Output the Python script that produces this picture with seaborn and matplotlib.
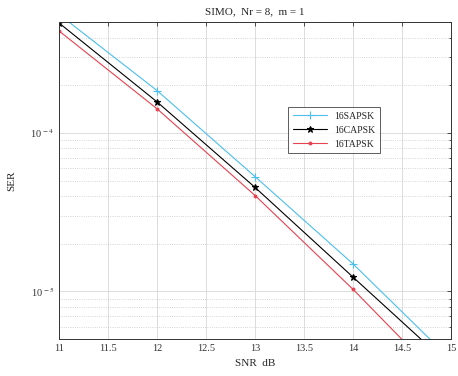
import numpy as np
import pandas as pd
import seaborn as sns
import matplotlib
matplotlib.use("Agg")
import matplotlib.pyplot as plt
from matplotlib.ticker import LogLocator, FixedLocator, FixedFormatter, NullFormatter

snr = [11, 12, 13, 14, 15]
ser_sapsk = [5.6e-4, 1.85e-4, 5.3e-5, 1.49e-5, 3.7e-6]
ser_capsk = [4.94e-4, 1.57e-4, 4.53e-5, 1.23e-5, 3.35e-6]
ser_tapsk = [4.4e-4, 1.42e-4, 4.03e-5, 1.03e-5, 2.4e-6]
names = ["16SAPSK", "16CAPSK", "16TAPSK"]
colors = ["#4DBEEE", "#000000", "#E8414F"]
markers = ["+", "*", "."]
msizes = [6, 5, 4]

sns.set_style("white")
plt.rcParams["font.family"] = ["Liberation Serif", "DejaVu Serif"]
plt.rcParams["mathtext.fontset"] = "stix"

fig = plt.figure(figsize=(4.58, 3.76), dpi=100)
ax = fig.add_axes([0.129, 0.098, 0.856, 0.843])

for name, vals, c, m, ms in zip(names, [ser_sapsk, ser_capsk, ser_tapsk], colors, markers, msizes):
    d = pd.DataFrame({"SNR": snr, "SER": vals})
    sns.lineplot(data=d, x="SNR", y="SER", color=c, marker=m, label=name,
                 linewidth=0.8, markersize=ms, markeredgewidth=0.8,
                 markeredgecolor=c, markerfacecolor=c, ax=ax)

ax.set_yscale("log")
ax.set_xlim(11, 15)
ax.set_ylim(5e-6, 5e-4)
ax.set_xticks([11, 11.5, 12, 12.5, 13, 13.5, 14, 14.5, 15])
ax.set_xticklabels(["11", "11.5", "12", "12.5", "13", "13.5", "14", "14.5", "15"])
ax.yaxis.set_major_locator(FixedLocator([1e-5, 1e-4]))
ax.yaxis.set_major_formatter(FixedFormatter([r"10$^{\,-5}$", r"10$^{\,-4}$"]))
ax.yaxis.set_minor_locator(LogLocator(base=10, subs=np.arange(2, 10), numticks=20))
ax.yaxis.set_minor_formatter(NullFormatter())

ax.grid(True, which="major", color="#dcdcdc", linewidth=0.7, linestyle="-")
ax.grid(True, which="minor", axis="y", color="#c8c8c8", linewidth=0.6, linestyle=":")
ax.tick_params(axis="both", which="both", direction="in", top=True, right=True,
               labelsize=7.5, length=3, width=0.6, colors="#333333")
ax.tick_params(axis="y", which="minor", length=1.5)
for s in ax.spines.values():
    s.set_color("#333333")
    s.set_linewidth(0.7)

ax.set_xlabel("SNR  dB", fontsize=8, labelpad=4)
ax.set_ylabel("SER", fontsize=8, labelpad=10)
ax.set_title("SIMO,  Nr = 8,  m = 1", fontsize=8, pad=6)

leg = ax.legend(loc="upper left", bbox_to_anchor=(0.571, 0.748), fontsize=7,
                frameon=True, fancybox=False, edgecolor="#333333",
                handlelength=3.5, borderpad=0.5, labelspacing=0.5)
leg.get_frame().set_linewidth(0.7)

fig.savefig("out.png", dpi=100, facecolor="white")
